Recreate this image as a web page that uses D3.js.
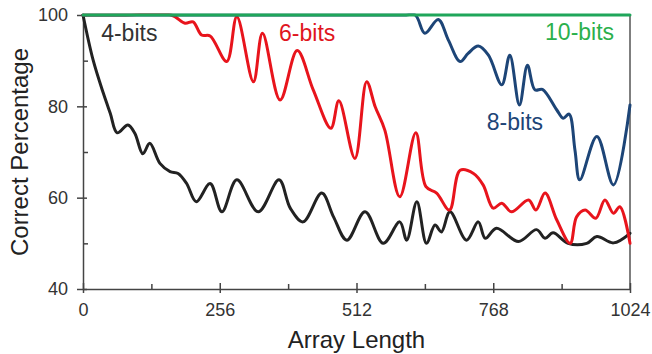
<!DOCTYPE html>
<html>
<head>
<meta charset="utf-8">
<script src="https://cdn.jsdelivr.net/npm/d3@7"></script>
<style>
  html, body { margin: 0; padding: 0; background: #fff; }
  #chart { width: 652px; height: 354px; }
  text { font-family: "Liberation Sans", Arial, sans-serif; }
  .axis path, .axis line { stroke: #444; stroke-width: 1.5; }
  .axis text { font-size: 18px; fill: #333; }
  .series { fill: none; stroke-width: 3; stroke-linejoin: round; stroke-linecap: round; }
</style>
</head>
<body>
<div id="chart"></div>
<script>
// Correct percentage vs array length
const xTicks = [0, 256, 512, 768, 1024];
const xMinor = [128, 384, 640, 896];
const yTicks = [40, 60, 80, 100];
const yMinor = [50, 70, 90];

const bits4Len = [0, 19, 38, 51, 64, 84, 97, 112, 125, 144, 163, 178, 194, 212, 238, 260, 288, 328, 367, 388, 412, 447, 469, 494, 528, 562, 593, 606, 625, 643, 659, 671, 687, 718, 740, 753, 774, 815, 849, 865, 880, 908, 943, 962, 993, 1024];
const bits4Pct = [100, 90.1, 82.9, 78.5, 74.2, 75.9, 74.1, 69.6, 71.9, 67.5, 65.7, 65.3, 63.1, 59.1, 63.1, 56.9, 63.9, 56.9, 63.9, 57.7, 54.7, 61, 55.8, 50.7, 56.9, 50, 54.7, 50.7, 59.1, 50, 54, 52.5, 56.9, 50.7, 54.7, 51.1, 53.3, 50.4, 53, 51.1, 52.3, 50, 50, 51.5, 50.1, 52.2];

const bits6Len = [0, 80, 165, 191, 206, 222, 238, 269, 288, 319, 336, 369, 401, 431, 464, 479, 509, 531, 547, 565, 593, 623, 642, 662, 686, 706, 731, 749, 768, 784, 802, 834, 848, 865, 887, 912, 924, 940, 960, 977, 993, 1005, 1024];
const bits6Pct = [100, 100, 100, 98.2, 98.5, 95.6, 95.4, 89.8, 99.6, 85.4, 96, 81.4, 92.2, 83.6, 75.2, 81.2, 68.6, 85.4, 79.9, 74.8, 60.2, 74.2, 62.4, 61, 57.3, 66, 65.3, 62.8, 57.7, 58.8, 56.9, 59.5, 57.3, 61, 55.1, 50, 55.8, 57.3, 55.5, 59.5, 56.6, 58, 50];

const bits8Len = [0, 300, 600, 622, 640, 665, 684, 706, 721, 740, 759, 784, 799, 817, 832, 846, 860, 887, 899, 910, 921, 930, 962, 993, 1024];
const bits8Pct = [100, 100, 100, 100, 96, 99, 94.5, 89.8, 91.6, 93.2, 91.2, 84.7, 91.2, 80.3, 89, 83.6, 83.7, 79.2, 77.4, 78.3, 70.4, 63.9, 73.4, 62.8, 80.3];

const bits10Len = [0, 1024];
const bits10Pct = [100, 100];

const seriesNames = ["4-bits", "6-bits", "8-bits", "10-bits"];

(function() {
  const width = 652, height = 354;
  const margin = { top: 15, right: 22, bottom: 65, left: 83 };
  const innerWidth = width - margin.left - margin.right;
  const innerHeight = height - margin.top - margin.bottom;

  const svg = d3.select("#chart")
    .append("svg")
    .attr("width", width)
    .attr("height", height);

  // keep curve overshoot from poking above the 100% line
  svg.append("defs").append("clipPath")
    .attr("id", "plot-clip")
    .append("rect")
    .attr("x", -3).attr("y", -1.5)
    .attr("width", innerWidth + 6).attr("height", innerHeight + 3);

  const g = svg.append("g")
    .attr("transform", `translate(${margin.left},${margin.top})`);

  const x = d3.scaleLinear().domain([0, 1024]).range([0, innerWidth]);
  const y = d3.scaleLinear().domain([40, 100]).range([innerHeight, 0]);

  // frame on the right and top
  g.append("line")
    .attr("x1", innerWidth).attr("x2", innerWidth)
    .attr("y1", 0).attr("y2", innerHeight)
    .attr("stroke", "#555").attr("stroke-width", 1.5);
  g.append("line")
    .attr("x1", 0).attr("x2", innerWidth)
    .attr("y1", 0).attr("y2", 0)
    .attr("stroke", "#555").attr("stroke-width", 1.5);

  // x axis: labels + outer tick part
  g.append("g")
    .attr("class", "axis")
    .attr("transform", `translate(0,${innerHeight})`)
    .call(d3.axisBottom(x).tickValues(xTicks).tickFormat(d3.format("d"))
      .tickSize(4).tickSizeOuter(0).tickPadding(10))
    .call(a => a.selectAll("text").attr("dy", "0.71em"));

  // inner tick parts
  g.append("g")
    .attr("class", "axis")
    .attr("transform", `translate(0,${innerHeight})`)
    .call(d3.axisTop(x).tickValues(xTicks).tickSize(6).tickFormat(""))
    .call(a => a.select(".domain").remove());
  g.append("g")
    .attr("class", "axis")
    .attr("transform", `translate(0,${innerHeight})`)
    .call(d3.axisTop(x).tickValues(xMinor).tickSize(5).tickFormat(""))
    .call(a => a.select(".domain").remove());

  // y axis
  g.append("g")
    .attr("class", "axis")
    .call(d3.axisLeft(y).tickValues(yTicks).tickSize(6).tickSizeOuter(0).tickPadding(9));
  g.append("g")
    .attr("class", "axis")
    .call(d3.axisRight(y).tickValues(yTicks).tickSize(4).tickFormat(""))
    .call(a => a.select(".domain").remove());
  g.append("g")
    .attr("class", "axis")
    .call(d3.axisRight(y).tickValues(yMinor).tickSize(5).tickFormat(""))
    .call(a => a.select(".domain").remove());

  const line = d3.line()
    .x(d => x(d[0]))
    .y(d => y(d[1]))
    .curve(d3.curveCatmullRom.alpha(0.5));

  const series = [
    { name: seriesNames[0], len: bits4Len, pct: bits4Pct, color: "#222222", label: "#333333", lx: 34, ly: 94.3 },
    { name: seriesNames[1], len: bits6Len, pct: bits6Pct, color: "#e8141c", label: "#e0161e", lx: 367, ly: 94.3 },
    { name: seriesNames[2], len: bits8Len, pct: bits8Pct, color: "#1d4577", label: "#1d4577", lx: 756, ly: 74.8 },
    { name: seriesNames[3], len: bits10Len, pct: bits10Pct, color: "#1fa65a", label: "#2bb04c", lx: 865, ly: 94.5 }
  ];

  g.selectAll(".series")
    .data(series)
    .enter()
    .append("path")
    .attr("class", "series")
    .attr("stroke", d => d.color)
    .attr("clip-path", d => d.name === "10-bits" ? null : "url(#plot-clip)")
    .attr("d", d => line(d.len.map((v, i) => [v, d.pct[i]])));

  g.selectAll(".series-label")
    .data(series)
    .enter()
    .append("text")
    .attr("class", "series-label")
    .attr("x", d => x(d.lx))
    .attr("y", d => y(d.ly))
    .attr("fill", d => d.label)
    .attr("font-size", 23)
    .text(d => d.name);

  // axis titles
  svg.append("text")
    .attr("x", margin.left + innerWidth / 2)
    .attr("y", 348)
    .attr("text-anchor", "middle")
    .attr("font-size", 24)
    .attr("fill", "#222")
    .text("Array Length");

  svg.append("text")
    .attr("transform", `translate(28,${margin.top + innerHeight / 2}) rotate(-90)`)
    .attr("text-anchor", "middle")
    .attr("font-size", 24)
    .attr("fill", "#222")
    .text("Correct Percentage");
})();
</script>
</body>
</html>
